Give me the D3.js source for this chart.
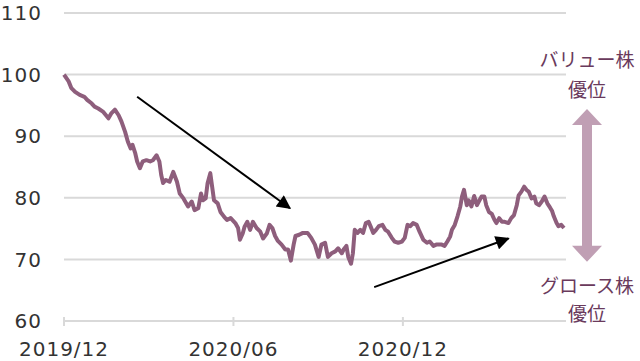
<!DOCTYPE html>
<html>
<head>
<meta charset="utf-8">
<script src="https://cdn.jsdelivr.net/npm/d3@7"></script>
<style>
  body { margin: 0; background: #fff; }
  .tick-label { font-family: "DejaVu Sans", sans-serif; font-size: 20px; fill: #333; letter-spacing: 1px; }
  .jp { font-family: "Noto Sans CJK JP", sans-serif; font-size: 19px; fill: #6a3a5c; }
</style>
</head>
<body>
<div id="chart"></div>
<script>
// value / growth relative index
var dates = [
  "2019-12-30", "2020-01-04", "2020-01-07", "2020-01-11", "2020-01-16", "2020-01-21", "2020-01-24", "2020-01-29",
  "2020-02-01", "2020-02-05", "2020-02-10", "2020-02-16", "2020-02-19", "2020-02-23", "2020-02-27", "2020-03-01",
  "2020-03-05", "2020-03-08", "2020-03-11", "2020-03-13", "2020-03-16", "2020-03-18", "2020-03-21", "2020-03-24",
  "2020-03-28", "2020-04-01", "2020-04-04", "2020-04-08", "2020-04-11", "2020-04-13", "2020-04-15", "2020-04-18",
  "2020-04-22", "2020-04-26", "2020-04-30", "2020-05-03", "2020-05-07", "2020-05-12", "2020-05-16", "2020-05-19",
  "2020-05-23", "2020-05-26", "2020-05-28", "2020-05-31", "2020-06-02", "2020-06-05", "2020-06-07", "2020-06-09",
  "2020-06-13", "2020-06-16", "2020-06-20", "2020-06-23", "2020-06-27", "2020-07-02", "2020-07-05", "2020-07-07",
  "2020-07-10", "2020-07-12", "2020-07-15", "2020-07-18", "2020-07-21", "2020-07-25", "2020-07-29", "2020-08-01",
  "2020-08-05", "2020-08-08", "2020-08-11", "2020-08-14", "2020-08-17", "2020-08-21", "2020-08-25", "2020-08-28",
  "2020-08-31", "2020-09-03", "2020-09-05", "2020-09-09", "2020-09-13", "2020-09-18", "2020-09-22", "2020-09-26",
  "2020-09-30", "2020-10-03", "2020-10-07", "2020-10-10", "2020-10-14", "2020-10-18", "2020-10-21", "2020-10-25",
  "2020-10-27", "2020-10-30", "2020-11-01", "2020-11-04", "2020-11-06", "2020-11-08", "2020-11-11", "2020-11-14",
  "2020-11-17", "2020-11-20", "2020-11-23", "2020-11-25", "2020-11-28", "2020-12-01", "2020-12-04", "2020-12-08",
  "2020-12-11", "2020-12-14", "2020-12-18", "2020-12-21", "2020-12-25", "2020-12-29", "2021-01-01", "2021-01-04",
  "2021-01-07", "2021-01-10", "2021-01-14", "2021-01-17", "2021-01-21", "2021-01-25", "2021-01-28", "2021-02-01",
  "2021-02-04", "2021-02-10", "2021-02-13", "2021-02-16", "2021-02-19", "2021-02-21", "2021-02-24", "2021-02-27",
  "2021-03-02", "2021-03-04", "2021-03-06", "2021-03-09", "2021-03-11", "2021-03-14", "2021-03-17", "2021-03-20",
  "2021-03-22", "2021-03-25", "2021-03-28", "2021-03-30", "2021-04-02", "2021-04-05", "2021-04-08", "2021-04-10",
  "2021-04-13", "2021-04-16", "2021-04-19", "2021-04-23", "2021-04-26", "2021-04-29", "2021-05-02", "2021-05-04",
  "2021-05-07", "2021-05-10", "2021-05-13", "2021-05-15", "2021-05-18", "2021-05-21", "2021-05-23", "2021-05-26",
  "2021-05-29", "2021-06-01", "2021-06-04", "2021-06-07", "2021-06-09", "2021-06-11", "2021-06-14", "2021-06-16",
  "2021-06-19", "2021-06-22"
];
var values = [
  100.0, 98.9, 97.8, 97.2, 96.7, 96.4, 95.9, 95.3,
  94.8, 94.5, 94.0, 92.9, 93.7, 94.3, 93.4, 92.4,
  90.7, 89.1, 88.0, 88.6, 87.2, 85.9, 84.8, 85.9,
  86.1, 85.9, 86.1, 86.9, 85.9, 83.7, 82.4, 82.9,
  82.6, 84.2, 82.6, 80.7, 79.9, 78.6, 79.4, 78.0,
  78.3, 80.7, 79.6, 79.9, 82.3, 84.0, 81.8, 79.6,
  79.1, 77.7, 76.9, 76.4, 76.7, 75.9, 75.1, 73.2,
  74.2, 75.3, 76.1, 74.8, 76.1, 75.1, 74.5, 73.4,
  74.2, 75.6, 75.1, 73.8, 73.0, 72.4, 71.6, 71.6,
  69.8, 72.4, 73.8, 74.0, 74.3, 74.3, 73.5, 72.4,
  70.4, 72.4, 72.7, 70.4, 71.0, 71.3, 71.8, 71.0,
  71.6, 72.2, 70.4, 69.3, 71.0, 74.8, 74.3, 74.8,
  74.3, 75.9, 76.1, 75.4, 74.3, 74.8, 75.4, 75.6,
  74.8, 74.5, 73.5, 72.9, 72.7, 72.9, 73.5, 75.6,
  75.4, 75.9, 75.6, 74.5, 73.2, 72.7, 72.9, 72.2,
  72.4, 72.4, 72.2, 72.9, 73.7, 74.8, 75.6, 77.0,
  78.6, 80.3, 81.3, 78.8, 79.6, 78.6, 80.3, 78.8,
  79.4, 80.2, 80.2, 78.8, 77.7, 77.4, 76.4, 75.9,
  76.7, 76.1, 76.1, 75.9, 76.7, 77.2, 78.8, 80.4,
  81.0, 81.8, 81.2, 81.0, 79.9, 80.2, 79.1, 78.8,
  79.4, 80.2, 79.1, 78.4, 77.9, 77.0, 75.9, 75.4,
  75.6, 75.1
];

var yTicks = [60, 70, 80, 90, 100, 110];
var xTicks = ["2019-12-30", "2020-06-30", "2020-12-30"];

// trend arrows: [start date, start value, end date, end value]
var trendArrows = [
  ["2020-03-18", 96.4, "2020-08-30", 78.3],
  ["2020-11-29", 65.5, "2021-04-23", 73.4]
];
var topLabel = ["バリュー株", "優位"];
var bottomLabel = ["グロース株", "優位"];
var rangeArrow = [94.4, 69.6];

const w = 640;
const h = 361;
const parse = d3.timeParse("%Y-%m-%d");

const data = dates.map((d, i) => ({ date: parse(d), value: values[i] }));

const xScale = d3.scaleTime()
  .domain([parse("2019-12-30"), parse("2021-06-22")])
  .range([64, 564]);
const yScale = d3.scaleLinear().domain([60, 110]).range([321, 13]);

const svg = d3.select("#chart").append("svg")
  .attr("width", w)
  .attr("height", h);

const defs = svg.append("defs");
defs.append("marker")
  .attr("id", "head")
  .attr("viewBox", "0 0 10 10")
  .attr("refX", 9).attr("refY", 5)
  .attr("markerWidth", 8).attr("markerHeight", 7)
  .attr("markerUnits", "strokeWidth")
  .attr("orient", "auto")
  .append("path")
  .attr("d", "M0,0 L10,5 L0,10 z")
  .attr("fill", "#000");

// grid
svg.append("g")
  .selectAll("line")
  .data(yTicks)
  .enter()
  .append("line")
  .attr("x1", 64)
  .attr("x2", 566)
  .attr("y1", d => yScale(d))
  .attr("y2", d => yScale(d))
  .attr("stroke", "#d9d9d9")
  .attr("stroke-width", 2);

// y labels
svg.append("g")
  .selectAll("text")
  .data(yTicks)
  .enter()
  .append("text")
  .attr("class", "tick-label")
  .attr("x", 42)
  .attr("y", d => yScale(d))
  .attr("dy", "0.36em")
  .attr("text-anchor", "end")
  .text(d => d);

// x axis ticks + labels
const xAxis = svg.append("g");
xAxis.selectAll("line")
  .data(xTicks)
  .enter()
  .append("line")
  .attr("x1", d => xScale(parse(d)))
  .attr("x2", d => xScale(parse(d)))
  .attr("y1", 317)
  .attr("y2", 326)
  .attr("stroke", "#d9d9d9")
  .attr("stroke-width", 2);
xAxis.selectAll("text")
  .data(xTicks)
  .enter()
  .append("text")
  .attr("class", "tick-label")
  .attr("x", d => xScale(parse(d)))
  .attr("y", 356)
  .attr("text-anchor", "middle")
  .text(d => d3.timeFormat("%Y/%m")(parse(d)));

// series
const line = d3.line()
  .x(d => xScale(d.date))
  .y(d => yScale(d.value));

svg.append("path")
  .datum(data)
  .attr("fill", "none")
  .attr("stroke", "#8e5e7c")
  .attr("stroke-width", 4)
  .attr("stroke-linejoin", "round")
  .attr("d", line);

// trend arrows
svg.append("g")
  .selectAll("line")
  .data(trendArrows)
  .enter()
  .append("line")
  .attr("x1", d => xScale(parse(d[0])))
  .attr("y1", d => yScale(d[1]))
  .attr("x2", d => xScale(parse(d[2])))
  .attr("y2", d => yScale(d[3]))
  .attr("stroke", "#000")
  .attr("stroke-width", 2)
  .attr("marker-end", "url(#head)");

// double arrow on the right
const ax = 587;
const yTop = yScale(rangeArrow[0]);
const yBot = yScale(rangeArrow[1]);
const headH = 16, headW = 15, shaftW = 5;
svg.append("path")
  .attr("d", [
    "M", ax, yTop,
    "L", ax + headW, yTop + headH,
    "L", ax + shaftW, yTop + headH,
    "L", ax + shaftW, yBot - headH,
    "L", ax + headW, yBot - headH,
    "L", ax, yBot,
    "L", ax - headW, yBot - headH,
    "L", ax - shaftW, yBot - headH,
    "L", ax - shaftW, yTop + headH,
    "L", ax - headW, yTop + headH,
    "Z"
  ].join(" "))
  .attr("fill", "#c09fb4");

svg.append("g")
  .selectAll("text")
  .data(topLabel)
  .enter()
  .append("text")
  .attr("class", "jp")
  .attr("x", ax)
  .attr("y", (d, i) => 67 + i * 30)
  .attr("text-anchor", "middle")
  .text(d => d);

svg.append("g")
  .selectAll("text")
  .data(bottomLabel)
  .enter()
  .append("text")
  .attr("class", "jp")
  .attr("x", ax)
  .attr("y", (d, i) => 293 + i * 28)
  .attr("text-anchor", "middle")
  .text(d => d);
</script>
</body>
</html>
